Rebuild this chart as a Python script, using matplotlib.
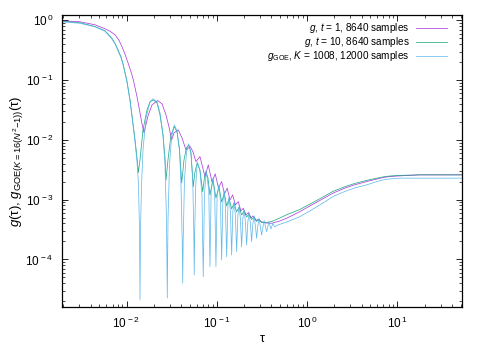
import numpy as np
import matplotlib
matplotlib.use('Agg')
from matplotlib import pyplot as plt
from matplotlib import rcParams
from matplotlib.ticker import LogLocator, NullFormatter, FuncFormatter

rcParams['font.family'] = ['Liberation Sans', 'DejaVu Sans']
rcParams['mathtext.fontset'] = 'custom'
rcParams['mathtext.rm'] = 'Liberation Sans'
rcParams['mathtext.it'] = 'Liberation Sans:italic'
rcParams['mathtext.bf'] = 'Liberation Sans:bold'

# g(tau) for t = 1
tau_t1 = [0.0019, 0.00306, 0.00448, 0.00578, 0.00657, 0.00746, 0.00826, 0.00892,
          0.009625, 0.01039, 0.01121, 0.01189,
          0.01307, 0.01410, 0.01484, 0.01562, 0.01729, 0.01915, 0.02214, 0.0247,
          0.02735, 0.02952, 0.03162, 0.03353, 0.03741, 0.04111, 0.04551, 0.0508,
          0.0544, 0.0587, 0.0650, 0.0739, 0.0804, 0.0883, 0.0960, 0.1041, 0.1130,
          0.1214, 0.1303, 0.1396, 0.1495, 0.1606, 0.1725, 0.1848, 0.1959, 0.2099,
          0.2237, 0.2383, 0.2508, 0.2707, 0.2871, 0.3154, 0.3492, 0.4070, 0.4989,
          0.5916, 0.830, 1.071, 1.382, 1.924, 2.612, 3.372, 4.54, 5.61, 6.88,
          8.22, 10.6, 17.6, 52.0]
g_t1 = [0.981, 0.944, 0.841, 0.721, 0.655, 0.572, 0.4626, 0.360,
        0.270, 0.1944, 0.1374, 0.1010,
        0.0524, 0.0283, 0.0185, 0.0131, 0.02522, 0.03853, 0.04547, 0.04004,
        0.0262, 0.0165, 0.0100, 0.0131, 0.0147, 0.0108, 6.80e-3, 7.72e-3,
        6.30e-3, 4.33e-3, 5.25e-3, 2.43e-3, 3.82e-3, 1.98e-3, 2.70e-3, 1.573e-3, 2.005e-3,
        1.248e-3, 1.555e-3, 9.90e-4, 1.201e-3, 8.17e-4, 9.28e-4, 6.48e-4, 7.19e-4, 5.56e-4,
        6.12e-4, 4.95e-4, 5.35e-4, 4.50e-4, 4.67e-4, 4.24e-4, 4.08e-4, 4.03e-4, 4.41e-4,
        4.89e-4, 6.31e-4, 7.86e-4, 9.71e-4, 1.282e-3, 1.561e-3, 1.779e-3, 2.005e-3, 2.174e-3, 2.34e-3,
        2.44e-3, 2.50e-3, 2.60e-3, 2.60e-3]

# g(tau) for t = 10
tau_t10 = [0.0019, 0.00306, 0.00448, 0.00578, 0.00686, 0.00746, 0.00805, 0.00869,
           0.00915, 0.01005,
           0.01093, 0.01165, 0.01242, 0.01307, 0.01350, 0.01410, 0.01522, 0.01686,
           0.01820, 0.01979, 0.02175, 0.02348, 0.02533, 0.02667, 0.02735, 0.02878,
           0.03107, 0.03379, 0.03619, 0.03859, 0.04081, 0.04327, 0.04612, 0.04875,
           0.05168, 0.0548, 0.0572, 0.0607, 0.0650, 0.0697, 0.0729, 0.0757, 0.0797,
           0.0839, 0.0906, 0.0977, 0.1055, 0.1130, 0.1208, 0.1284, 0.1368, 0.1458,
           0.1553, 0.1656, 0.1765, 0.1880, 0.2004, 0.2137, 0.2277, 0.2427, 0.2587,
           0.2756, 0.2937, 0.3131, 0.3555, 0.4070, 0.4989, 0.596, 0.830, 1.071,
           1.382, 1.924, 2.612, 3.372, 4.54, 5.61, 6.88, 8.22, 10.6, 17.6, 52.0]
g_t10 = [0.962, 0.908, 0.787, 0.667, 0.504, 0.412, 0.3209, 0.245,
         0.1871, 0.1010,
         0.0467, 0.0216, 0.0100, 4.99e-3, 2.84e-3, 4.63e-3, 0.0147, 0.0318,
         0.04325, 0.0467, 0.0416, 0.0262, 0.01213, 4.99e-3, 2.14e-3, 4.63e-3,
         0.01213, 0.0167, 0.01361, 6.80e-3, 1.907e-3, 4.63e-3, 7.35e-3, 8.25e-3,
         6.06e-3, 1.654e-3, 2.91e-3, 4.12e-3, 3.15e-3, 1.364e-3, 2.31e-3, 2.95e-3, 2.31e-3,
         1.201e-3, 2.14e-3, 1.07e-3, 1.635e-3, 9.17e-4, 1.297e-3, 7.86e-4, 1.05e-3, 7.00e-4,
         8.82e-4, 6.24e-4, 7.56e-4, 5.56e-4, 6.48e-4, 5.14e-4, 5.77e-4, 4.67e-4, 5.14e-4,
         4.33e-4, 4.67e-4, 4.16e-4, 4.16e-4, 4.33e-4, 4.95e-4, 5.62e-4, 6.87e-4, 8.42e-4,
         1.037e-3, 1.374e-3, 1.647e-3, 1.871e-3, 2.10e-3, 2.25e-3, 2.40e-3, 2.49e-3, 2.55e-3,
         2.60e-3, 2.60e-3]

# g_GOE(tau), K = 1008
tau_goe = [0.0019, 0.00306, 0.00448, 0.00578, 0.00686, 0.00746, 0.00805, 0.00869,
           0.00915, 0.01005,
           0.01093, 0.01165, 0.01242, 0.01307, 0.01357, 0.01392, 0.01410, 0.01428,
           0.01466, 0.01522, 0.01643, 0.01820, 0.01964, 0.02175, 0.02348, 0.02533,
           0.02667, 0.0277, 0.02827, 0.02878, 0.0299, 0.03147, 0.03379, 0.03619,
           0.03859, 0.04009, 0.04133, 0.04186, 0.04240, 0.04383, 0.04612, 0.04875,
           0.05168, 0.0541, 0.0555, 0.0562, 0.0569, 0.0584, 0.0607, 0.0650, 0.0684,
           0.0707, 0.0729, 0.0761,
           0.0814, 0.0839, 0.0865, 0.0906, 0.0948, 0.0977, 0.1007, 0.1055,
           0.1096, 0.1130, 0.1165, 0.1208, 0.1245, 0.1284, 0.1324, 0.1368,
           0.1414, 0.1458, 0.1503, 0.1553, 0.1606, 0.1656, 0.1707, 0.1765,
           0.1823, 0.1880, 0.1938, 0.2004, 0.2073, 0.2137, 0.2203, 0.2277,
           0.2354, 0.2427, 0.2502, 0.2587, 0.2673, 0.2756, 0.2841, 0.2937,
           0.3131, 0.3336, 0.3555, 0.3771, 0.3967, 0.4175, 0.4391, 0.4741,
           0.596, 0.830, 1.071, 1.382, 1.924, 2.612, 3.372, 4.54, 5.61, 6.88,
           8.22, 10.6, 17.6, 52.0]
g_goe = [0.944, 0.891, 0.778, 0.655, 0.490, 0.404, 0.3087, 0.2357,
         0.180, 0.0975,
         0.0450, 0.0208, 9.26e-3, 4.28e-3, 1.766e-3, 3.12e-4, 2.10e-5, 3.12e-4,
         1.766e-3, 6.80e-3, 0.0233, 0.04325, 0.0486, 0.04325, 0.0283, 0.01213,
         3.82e-3, 4.58e-4, 2.27e-5, 4.58e-4, 3.82e-3, 0.0108, 0.0178, 0.01414,
         6.80e-3, 1.766e-3, 2.12e-4, 4.04e-5, 2.12e-4, 2.14e-3, 6.30e-3, 8.57e-3,
         6.06e-3, 2.14e-3, 3.12e-4, 5.50e-5, 3.12e-4, 1.766e-3, 4.28e-3, 3.03e-3, 1.201e-3,
         5.15e-5, 1.201e-3, 3.03e-3,
         1.456e-3, 7.58e-5, 1.456e-3, 2.31e-3, 1.156e-3, 7.58e-5, 1.156e-3, 1.766e-3,
         9.17e-4, 9.81e-5, 9.17e-4, 1.401e-3, 7.56e-4, 1.114e-4, 7.56e-4, 1.112e-3,
         6.24e-4, 1.189e-4, 6.24e-4, 9.17e-4, 5.35e-4, 1.351e-4, 5.35e-4, 7.86e-4,
         4.76e-4, 1.638e-4, 4.76e-4, 6.74e-4, 4.24e-4, 1.748e-4, 4.24e-4, 6.00e-4,
         3.93e-4, 1.986e-4, 3.93e-4, 5.35e-4, 3.64e-4, 2.26e-4, 3.64e-4, 4.86e-4,
         2.57e-4, 4.50e-4, 2.92e-4, 4.24e-4, 3.24e-4, 4.00e-4, 3.50e-4, 3.78e-4,
         4.24e-4, 5.20e-4, 6.48e-4, 8.17e-4, 1.125e-3, 1.374e-3, 1.573e-3, 1.766e-3, 1.959e-3, 2.14e-3,
         2.225e-3, 2.29e-3, 2.29e-3, 2.29e-3]

labels = [r'$g$, $t$ = 1, 8640 samples',
          r'$g$, $t$ = 10, 8640 samples',
          r'$g_{\mathrm{GOE}}$, $K$ = 1008, 12000 samples']
colors = ['#9400d3', '#009e73', '#56b4e9']


def pow10(v, pos):
    return r'$\mathdefault{10^{\,%d}}$' % int(round(np.log10(v)))


fig = plt.figure(figsize=(4.96, 3.55), dpi=100)
ax = fig.add_axes([0.125, 0.135, 0.806, 0.823])

ax.loglog(tau_t1, g_t1, color=colors[0], lw=0.55, alpha=0.75, label=labels[0])
ax.loglog(tau_t10, g_t10, color=colors[1], lw=0.55, alpha=0.85, label=labels[1])
ax.loglog(tau_goe, g_goe, color=colors[2], lw=0.55, alpha=0.9, label=labels[2])

ax.set_xlim(1.93e-3, 51.5)
ax.set_ylim(1.6e-5, 1.23)

for axis in [ax.xaxis, ax.yaxis]:
    axis.set_major_locator(LogLocator(base=10, numticks=20))
    axis.set_minor_locator(LogLocator(base=10, subs=np.arange(2, 10), numticks=20))
    axis.set_major_formatter(FuncFormatter(pow10))
    axis.set_minor_formatter(NullFormatter())

ax.tick_params(which='both', direction='in', top=True, right=True, labelsize=8.5, pad=6)
ax.tick_params(which='major', length=4.5, width=0.6)
ax.tick_params(which='minor', length=2.3, width=0.5)
for sp in ax.spines.values():
    sp.set_linewidth(0.9)

ax.set_xlabel('τ', fontsize=9, labelpad=2)
ax.set_ylabel(r'$g$(τ), $g_{\mathrm{GOE(}K\mathrm{=16(}N^{\mathrm{2}}\mathrm{-1))}}$(τ)', fontsize=9.5)
ax.yaxis.set_label_coords(-0.092, 0.5)

ax.legend(loc='upper right', bbox_to_anchor=(0.9625, 0.978), frameon=False,
          markerfirst=False, fontsize=7.2, handlelength=3.1, handletextpad=0.6,
          labelspacing=0.0, borderpad=0, borderaxespad=0)

plt.savefig('out.png', dpi=100)
